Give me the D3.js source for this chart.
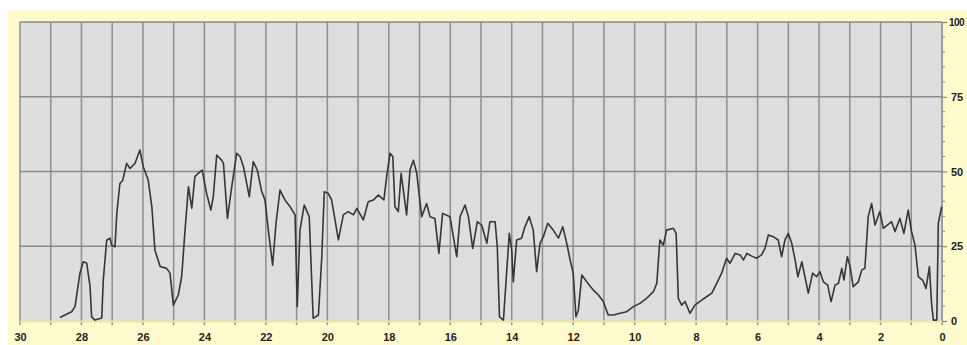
<!DOCTYPE html>
<html><head><meta charset="utf-8">
<script src="https://cdn.jsdelivr.net/npm/d3@7"></script>
<style>
html,body{margin:0;padding:0;background:#fff;}
svg{display:block;}
text{font-family:"Liberation Sans",Arial,sans-serif;font-weight:bold;fill:#222;}
</style></head>
<body>
<script>
// x values: days ago (30 -> 0), y values: percent
const days = [28.70,28.32,28.21,28.05,27.94,27.83,27.72,27.67,27.56,27.34,27.29,27.18,27.07,27.02,26.91,26.85,26.75,26.66,26.53,26.42,26.26,26.10,25.99,25.83,25.71,25.61,25.44,25.23,25.12,25.01,24.85,24.74,24.63,24.52,24.41,24.31,24.20,24.07,23.93,23.79,23.71,23.60,23.44,23.38,23.25,23.11,22.95,22.84,22.73,22.54,22.41,22.28,22.14,22.03,21.92,21.78,21.67,21.54,21.38,21.21,21.05,20.98,20.89,20.75,20.59,20.46,20.29,20.18,20.10,19.97,19.86,19.64,19.48,19.32,19.15,19.04,18.83,18.67,18.50,18.34,18.16,18.07,17.96,17.87,17.80,17.69,17.60,17.42,17.31,17.20,17.09,16.93,16.77,16.66,16.50,16.37,16.25,16.01,15.79,15.68,15.52,15.41,15.27,15.12,14.98,14.81,14.71,14.54,14.47,14.40,14.27,14.19,14.08,14.00,13.95,13.84,13.68,13.57,13.43,13.30,13.19,13.08,12.97,12.83,12.65,12.48,12.34,12.21,12.10,12.00,11.91,11.83,11.72,11.56,11.35,11.18,11.02,10.86,10.69,10.48,10.26,10.04,9.83,9.61,9.39,9.28,9.18,9.07,8.96,8.74,8.65,8.58,8.47,8.36,8.20,8.04,7.82,7.66,7.49,7.33,7.17,7.01,6.90,6.73,6.57,6.46,6.35,6.19,6.03,5.87,5.76,5.65,5.49,5.33,5.22,5.11,5.00,4.89,4.78,4.69,4.56,4.46,4.35,4.21,4.08,3.97,3.86,3.72,3.61,3.48,3.37,3.26,3.19,3.08,2.99,2.89,2.72,2.61,2.51,2.40,2.29,2.18,2.02,1.91,1.78,1.64,1.53,1.37,1.24,1.10,0.99,0.88,0.77,0.63,0.52,0.41,0.34,0.28,0.17,0.12,0.01];
const values = [1.2,3.1,4.8,16,19.8,19.4,11.5,1.4,0.3,1,13.7,27,27.7,25.4,24.8,36,46,47,52.7,51,52.7,57.2,51.6,47.2,38.2,23.7,18.2,17.6,16,5.3,8.7,14.8,30.4,44.9,37.7,48.3,49.4,50.5,42.7,37.1,41.6,55.5,53.8,52.7,34.3,44.9,56.1,55,51.6,41.6,53.3,50.5,43.5,40.5,30.4,18.7,32.7,43.8,40.5,38.2,35.5,4.8,30.4,38.8,34.9,0.9,2,21.5,43.2,42.7,40.5,27.1,35.5,36.6,35.5,37.7,33.8,39.9,40.5,42.1,40.5,48.3,56.1,55,38.2,36.6,49.4,35.5,50.5,53.8,49.4,34.9,39.3,34.9,34.3,22.6,36,34.9,21.5,34.9,38.8,34.9,24.3,33.2,32.1,26,33.2,33.2,24.8,1.4,0.3,12.6,29.3,23.7,13.1,27.1,27.7,31.5,34.9,30.4,16.5,26,28.2,32.7,30.4,27.7,31.5,26,20.4,16,1.4,3.7,15.4,13.1,10.4,8.7,6.5,2,2,2.6,3.1,4.8,5.9,7.6,9.8,12.6,27.1,25.4,30.4,31,29.3,7.6,5.3,6.5,2.6,5.3,7,8.1,9.3,12.6,16,21,19.3,22.6,22.1,20.4,22.6,21.7,21,22.1,24.3,28.8,28.2,27.1,21.5,27.1,29.3,26,20.4,14.8,19.8,14.8,9.3,16,14.8,16.5,13.1,12,6.5,12,12.6,17.6,13.7,21.5,18.2,11.5,13.1,17.1,17.6,34.9,39.3,32.1,36.6,31,32.1,33.2,29.9,34.3,29.3,37.1,29.9,25.4,14.8,13.7,10.9,18.2,5.9,0.3,0.3,32.7,38.2];
const xTicks = [30,28,26,24,22,20,18,16,14,12,10,8,6,4,2,0];
const yTicks = [0,25,50,75,100];

const W = 967, H = 345;
const plot = {left: 20, right: 942, top: 22, bottom: 321};

const svg = d3.select("body").append("svg").attr("width", W).attr("height", H);
svg.append("rect").attr("x", 8).attr("y", 10).attr("width", W - 8).attr("height", H - 10).attr("fill", "#fffbcc");

const x = d3.scaleLinear().domain([30, 0]).range([plot.left, plot.right]);
const y = d3.scaleLinear().domain([0, 100]).range([plot.bottom, plot.top]);

svg.append("rect").attr("x", plot.left).attr("y", plot.top)
  .attr("width", plot.right - plot.left).attr("height", plot.bottom - plot.top).attr("fill", "#dedede");

// vertical grid (every day), extending slightly below plot as ticks
svg.append("g").selectAll("line").data(d3.range(0, 31)).join("line")
  .attr("x1", d => x(d)).attr("x2", d => x(d)).attr("y1", plot.top).attr("y2", plot.bottom + 4)
  .attr("stroke", "#8e8e8e").attr("stroke-width", 1.5);
// horizontal grid
svg.append("g").selectAll("line").data(yTicks.filter(d => d > 0)).join("line")
  .attr("x1", plot.left).attr("x2", plot.right).attr("y1", d => y(d)).attr("y2", d => y(d))
  .attr("stroke", "#8a8a8a").attr("stroke-width", 1.5);

// bottom baseline
svg.append("line").attr("x1", plot.left).attr("x2", plot.right).attr("y1", plot.bottom + 0.5).attr("y2", plot.bottom + 0.5)
  .attr("stroke", "#ece6a6").attr("stroke-width", 2);

// right axis
const yAxis = d3.axisRight(y).tickValues(yTicks).tickSize(5).tickPadding(4).tickFormat(d3.format("d"));
const gy = svg.append("g").attr("transform", `translate(${plot.right},0)`).call(yAxis);
gy.select(".domain").attr("stroke", "#9a9a9a").attr("stroke-width", 1);
gy.selectAll(".tick line").attr("stroke", "#777");
gy.selectAll("text").style("font-size", "11px").attr("fill", "#222");
// keep the top label inside the window
gy.selectAll(".tick").filter(d => d === 100).select("text")
  .style("font-size", "10px").style("letter-spacing", "-0.5px").attr("x", 7);
// minor ticks
svg.append("g").selectAll("line").data(d3.range(0, 101, 5).filter(d => d % 25 !== 0)).join("line")
  .attr("x1", plot.right).attr("x2", plot.right + 3).attr("y1", d => y(d)).attr("y2", d => y(d))
  .attr("stroke", "#888");

// bottom axis labels
const xAxis = d3.axisBottom(x).tickValues(xTicks).tickSize(0).tickPadding(12).tickFormat(d3.format("d"));
const gx = svg.append("g").attr("transform", `translate(0,${plot.bottom})`).call(xAxis);
gx.select(".domain").remove();
gx.selectAll("text").style("font-size", "11px").attr("fill", "#222");

// data line
const line = d3.line().x((d, i) => x(days[i])).y((d, i) => y(values[i]));
svg.append("path").datum(values).attr("d", line).attr("fill", "none")
  .attr("stroke", "#363636").attr("stroke-width", 1.6).attr("stroke-linejoin", "round");
</script>
</body></html>
